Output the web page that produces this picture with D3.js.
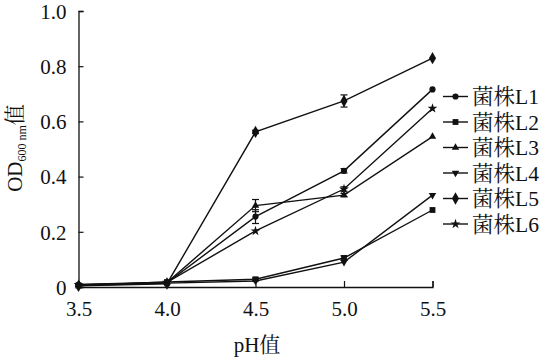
<!DOCTYPE html>
<html><head><meta charset="utf-8">
<script src="https://cdn.jsdelivr.net/npm/d3@7"></script>
<style>
html,body{margin:0;padding:0;background:#fff;}
text{font-family:"Liberation Serif","Times New Roman","Noto Serif CJK SC","Noto Sans CJK SC",serif;fill:#111;}
</style></head>
<body><svg id="c" width="541" height="359"></svg>
<script>
const phValues = [3.5, 4.0, 4.5, 5.0, 5.5];
const seriesNames = ["菌株L1","菌株L2","菌株L3","菌株L4","菌株L5","菌株L6"];
const L1 = [0.008, 0.015, 0.255, 0.421, 0.716];
const L2 = [0.006, 0.018, 0.028, 0.105, 0.279];
const L3 = [0.007, 0.016, 0.295, 0.333, 0.545];
const L4 = [0.005, 0.014, 0.022, 0.090, 0.333];
const L5 = [0.004, 0.012, 0.562, 0.674, 0.829];
const L6 = [0.009, 0.017, 0.203, 0.355, 0.647];
const L1err = [0, 0, 0.025, 0.008, 0];
const L2err = [0, 0, 0.005, 0.008, 0];
const L3err = [0, 0, 0.022, 0.006, 0];
const L4err = [0, 0, 0, 0, 0];
const L5err = [0, 0, 0.006, 0.022, 0];
const L6err = [0, 0, 0, 0.008, 0];
const yTicks = [0, 0.2, 0.4, 0.6, 0.8, 1.0];
const yTickLabels = ["0","0.2","0.4","0.6","0.8","1.0"];
const xTickLabels = ["3.5","4.0","4.5","5.0","5.5"];

const allValues = [L1,L2,L3,L4,L5,L6];
const allErr = [L1err,L2err,L3err,L4err,L5err,L6err];
const markerTypes = ["circle","square","triangle","triangleDown","diamond","star"];

const svg = d3.select("#c");
const x = d3.scaleLinear().domain([3.5,5.5]).range([78.5,432.5]);
const y = d3.scaleLinear().domain([0,1]).range([287,11]);

// axes
const xAxis = svg.append("g").attr("transform","translate(0,287)")
  .call(d3.axisBottom(x).tickValues(phValues).tickSize(-6).tickFormat((d,i)=>xTickLabels[i]));
const yAxis = svg.append("g").attr("transform","translate(78.5,0)")
  .call(d3.axisLeft(y).tickValues(yTicks).tickSize(-5).tickFormat((d,i)=>yTickLabels[i]));
[xAxis,yAxis].forEach(g=>{
  g.select(".domain").attr("stroke","#111").attr("stroke-width",1.3);
  g.selectAll(".tick line").attr("stroke","#111").attr("stroke-width",1.2);
  g.selectAll("text").style("font-size","21px").attr("fill","#111");
});
xAxis.selectAll(".tick text").attr("dy","0").attr("y",29);
yAxis.selectAll(".tick text").attr("x",-12).attr("dy","0.35em");

function symbolFor(t){
  const map = {circle:d3.symbolCircle,square:d3.symbolSquare,triangle:d3.symbolTriangle,
    triangleDown:d3.symbolTriangle,diamond:d3.symbolDiamond,star:d3.symbolStar};
  const size = {circle:30,square:34,triangle:24,triangleDown:24,diamond:44,star:30}[t];
  return {path:d3.symbol().type(map[t]).size(size)(), rot: t==="triangleDown"?180:0};
}

const line = d3.line().x((d,i)=>x(phValues[i])).y(d=>y(d));
allValues.forEach((vals,si)=>{
  const g = svg.append("g");
  g.append("path").datum(vals).attr("d",line).attr("fill","none")
    .attr("stroke","#111").attr("stroke-width",1.4);
  vals.forEach((v,i)=>{
    const e = allErr[si][i];
    if(e>0){
      const cx = x(phValues[i]);
      g.append("line").attr("x1",cx).attr("x2",cx).attr("y1",y(v-e)).attr("y2",y(v+e))
        .attr("stroke","#111").attr("stroke-width",1.2);
      [v-e,v+e].forEach(w=>g.append("line").attr("x1",cx-3.5).attr("x2",cx+3.5)
        .attr("y1",y(w)).attr("y2",y(w)).attr("stroke","#111").attr("stroke-width",1.2));
    }
  });
  const s = symbolFor(markerTypes[si]);
  g.selectAll("path.m").data(vals).join("path").attr("class","m").attr("d",s.path)
    .attr("transform",(d,i)=>`translate(${x(phValues[i])},${y(d)}) rotate(${s.rot})`)
    .attr("fill","#111");
});

// legend
const lg = svg.append("g");
const legY = d3.scalePoint().domain(seriesNames).range([96.5,224]);
seriesNames.forEach((n,i)=>{
  const yy = legY(n);
  lg.append("line").attr("x1",443).attr("x2",468).attr("y1",yy).attr("y2",yy)
    .attr("stroke","#111").attr("stroke-width",1.4);
  const s = symbolFor(markerTypes[i]);
  lg.append("path").attr("d",s.path).attr("transform",`translate(455.5,${yy}) rotate(${s.rot})`).attr("fill","#111");
  lg.append("text").attr("x",472).attr("y",yy).attr("dy","0.36em").style("font-size","21.5px").text(n);
});

// axis titles
svg.append("text").attr("x",257).attr("y",352).attr("text-anchor","middle")
  .style("font-size","21px").text("pH值");
const yt = svg.append("text").attr("transform","translate(22,148) rotate(-90)").attr("text-anchor","middle")
  .style("font-size","21px");
yt.append("tspan").text("OD");
yt.append("tspan").attr("dy",4).style("font-size","12px").text("600 nm");
yt.append("tspan").attr("dy",-4).text("值");
</script></body></html>
